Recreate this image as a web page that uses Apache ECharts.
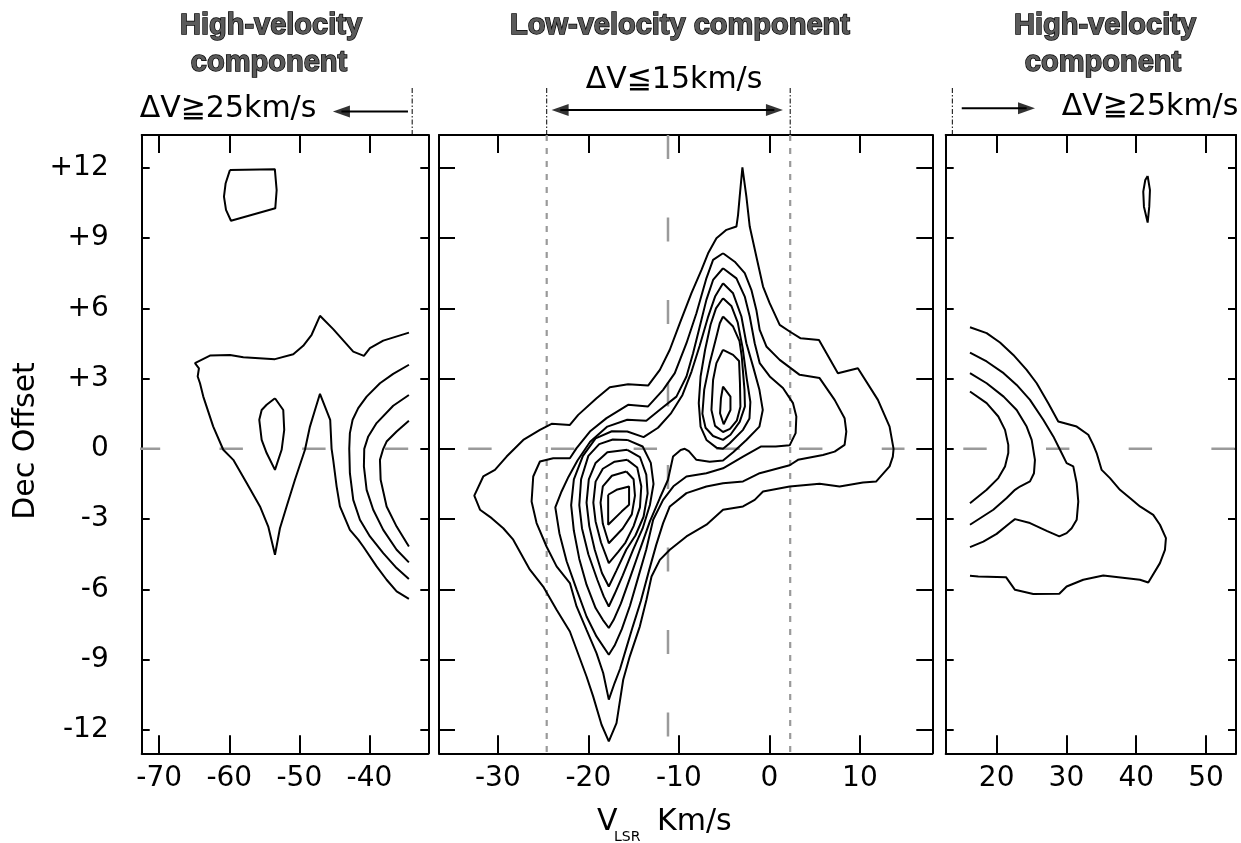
<!DOCTYPE html>
<html><head><meta charset="utf-8">
<script src="https://cdn.jsdelivr.net/npm/echarts@6/dist/echarts.min.js"></script>
<style>html,body{margin:0;padding:0;background:#fff}#chart{width:1241px;height:843px}</style>
</head><body><div id="chart"></div>
<script>
// ---------- tick values / labels ----------
const yTicks = [-12,-9,-6,-3,0,3,6,9,12];
const yTickLabels = ['-12','-9','-6','-3','0','+3','+6','+9','+12'];
const xTicksLeft = [-70,-60,-50,-40];
const xTicksMid = [-30,-20,-10,0,10];
const xTicksRight = [20,30,40,50];

// ---------- left panel contours (x: VLSR, y: Dec offset) ----------
const leftOuter = [[-34.36,4.96],[-38.03,4.62],[-39.93,4.30],[-40.79,3.97],[-42.31,4.15],[-45.17,5.11],[-47.06,5.68],[-48.25,4.87],[-49.45,4.40],[-50.87,4.04],[-53.48,3.83],[-58.00,3.91],[-59.90,4.01],[-62.76,3.98],[-64.90,3.66],[-64.33,3.44],[-64.51,3.09],[-64.18,2.80],[-63.71,2.23],[-62.29,0.95],[-60.86,-0.04],[-59.43,-0.47],[-57.52,-1.46],[-55.62,-2.46],[-54.44,-3.32],[-53.48,-4.52],[-52.77,-3.39],[-51.82,-2.46],[-50.63,-1.32],[-49.20,-0.04],[-48.49,0.95],[-47.77,1.66],[-47.06,2.35],[-45.60,1.24],[-45.40,0.00],[-45.17,-0.47],[-44.68,-1.61],[-44.21,-2.46],[-42.79,-3.46],[-41.60,-3.88],[-40.89,-4.17],[-38.98,-5.02],[-37.55,-5.59],[-36.12,-6.09],[-34.37,-6.41]];
const leftTopLoop = [[-59.9,11.91],[-53.5,11.94],[-53.24,11.05],[-53.44,10.27],[-59.76,9.74],[-60.47,10.2],[-60.76,10.77],[-60.52,11.34]];
const leftInnerLoop = [[-53.48,2.16],[-52.3,1.66],[-52.16,0.81],[-52.53,-0.04],[-53.48,-0.9],[-54.67,-0.18],[-55.38,0.38],[-55.72,1.24],[-55.38,1.66],[-54.67,1.88]];
const leftArcA = [[-34.36,3.59],[-36.61,3.2],[-38.5,2.8],[-40.4,2.23],[-41.6,1.74],[-42.4,1.24],[-42.79,0.67],[-42.88,0],[-42.79,-1.04],[-42.31,-2.18],[-41.36,-3.03],[-39.93,-3.74],[-38.03,-4.45],[-36.12,-5.09],[-34.37,-5.56]];
const leftArcB = [[-34.37,2.3],[-36.61,1.84],[-38.98,1.1],[-40.17,0.53],[-40.74,0],[-40.79,-0.75],[-40.4,-1.75],[-39.46,-2.6],[-38.03,-3.46],[-36.12,-4.31],[-34.37,-4.85]];
const leftArcC = [[-34.37,1.2],[-36.12,0.74],[-37.55,0.31],[-38.03,0],[-38.5,-0.47],[-38.4,-1.32],[-37.55,-2.46],[-36.12,-3.32],[-34.37,-4.17]];

// ---------- middle panel contours ----------
const midM1 = [[-2.98,12.02],[-2.54,10.77],[-2.17,9.49],[-1.44,8.21],[-0.7,6.93],[0.03,6.22],[1.14,5.29],[2.24,5.01],[3.46,4.72],[5.48,4.65],[7.57,3.23],[9.78,3.44],[11.99,2.09],[13.28,0.95],[13.72,0],[13.64,-0.33],[13.28,-0.75],[11.81,-1.39],[10.34,-1.44],[7.76,-1.61],[5.55,-1.49],[2.24,-1.61],[-0.7,-1.82],[-1.62,-2.18],[-2.91,-2.46],[-5.12,-2.6],[-6.95,-3.24],[-9.16,-3.74],[-11.0,-4.31],[-12.1,-4.74],[-13.02,-5.45],[-13.58,-6.44],[-14.31,-7.58],[-15.42,-8.86],[-16.15,-9.86],[-16.89,-11.71],[-17.74,-12.49],[-18.54,-11.78],[-19.47,-10.57],[-20.2,-9.72],[-22.04,-7.8],[-23.51,-6.87],[-24.99,-5.88],[-26.46,-5.16],[-28.3,-3.88],[-29.4,-3.39],[-30.68,-2.96],[-31.97,-2.6],[-32.6,-2.0],[-31.61,-1.18],[-30.32,-0.9],[-29.03,-0.33],[-27.19,0.38],[-25.35,0.81],[-24.06,1.07],[-22.04,1.02],[-21.12,1.45],[-19.09,2.16],[-17.63,2.63],[-15.61,2.76],[-13.4,2.7],[-12.1,3.37],[-11.0,4.23],[-9.9,5.36],[-8.61,6.65],[-7.5,7.64],[-6.77,8.35],[-5.85,8.99],[-4.74,9.35],[-3.64,9.49],[-3.46,9.99],[-3.28,10.77]];
const midM2 = [[-5.12,8.35],[-3.83,7.99],[-2.72,7.5],[-1.99,6.79],[-1.44,5.93],[-1.07,5.08],[-0.33,4.37],[1.14,3.8],[3.35,3.16],[5.55,3.02],[7.21,2.09],[8.31,1.31],[8.5,0.74],[8.31,0.17],[7.21,-0.12],[5.92,-0.26],[3.16,-0.47],[2.24,-0.7],[-1.07,-1.04],[-2.91,-1.39],[-5.12,-1.47],[-6.96,-1.61],[-9.16,-1.89],[-11.0,-2.46],[-11.74,-3.17],[-12.5,-4.1],[-13.3,-5.2],[-14.2,-6.5],[-15.1,-7.6],[-15.8,-8.5],[-16.5,-9.4],[-17.1,-10.0],[-17.74,-10.71],[-18.36,-9.57],[-19.1,-8.72],[-20.2,-7.73],[-21.3,-6.73],[-22.04,-5.73],[-23.51,-5.02],[-24.62,-4.17],[-25.72,-3.17],[-26.27,-2.25],[-26.09,-1.18],[-25.35,-0.54],[-23.88,-0.4],[-22.04,-0.4],[-21.3,0.03],[-19.83,0.74],[-17.99,1.31],[-15.61,1.88],[-13.4,1.81],[-11.74,2.52],[-10.45,3.23],[-9.16,4.51],[-8.06,5.79],[-6.95,7.29],[-6.22,8.07]];
const midM3 = [[-5.12,7.71],[-3.64,7.28],[-2.72,6.5],[-2.17,5.65],[-1.62,4.51],[-1.07,3.66],[0.04,3.09],[1.5,2.6],[2.61,1.95],[2.98,1.38],[2.9,0.67],[2.24,0.15],[0.7,0.1],[-0.9,0.1],[-2.91,-0.33],[-5.12,-0.83],[-6.96,-1.04],[-9.16,-1.18],[-10.6,-1.6],[-11.74,-2.18],[-12.84,-3.03],[-13.6,-4.3],[-14.5,-5.5],[-15.4,-6.7],[-16.3,-7.7],[-17.1,-8.4],[-17.74,-8.79],[-19.1,-8.01],[-20.2,-7.16],[-21.3,-6.0],[-22.4,-4.8],[-23.2,-3.6],[-23.65,-2.5],[-22.96,-1.82],[-22.2,-1.2],[-21.2,-0.5],[-19.8,0.3],[-17.9,0.95],[-15.7,1.24],[-13.6,1.2],[-12.0,1.7],[-10.27,2.23],[-9.16,3.09],[-8.43,4.08],[-7.69,5.22],[-6.96,6.36],[-6.22,7.21]];
const midM4 = [[-5.12,7.07],[-4.01,6.64],[-3.09,5.65],[-2.54,4.51],[-1.8,3.51],[-1.1,2.52],[-0.73,1.66],[-1.1,0.95],[-2.54,0.38],[-4.0,-0.15],[-5.12,-0.5],[-6.6,-0.55],[-8.06,-0.47],[-8.9,-0.1],[-9.35,0.0],[-9.8,-0.05],[-10.64,-0.33],[-11.2,-1.32],[-12.1,-2.1],[-13.2,-3.1],[-14.3,-4.3],[-15.3,-5.4],[-16.4,-6.6],[-17.2,-7.3],[-17.74,-7.65],[-18.4,-7.3],[-19.2,-6.8],[-20.2,-5.8],[-21.0,-4.7],[-21.6,-3.5],[-21.9,-2.4],[-21.6,-1.3],[-20.6,-0.3],[-19.2,0.45],[-17.4,0.75],[-15.7,0.74],[-13.9,0.5],[-12.3,0.9],[-10.9,1.5],[-9.6,2.3],[-8.6,3.3],[-7.7,4.4],[-6.8,5.6],[-6.0,6.5]];
const midLow5 = [[-15.7,0.38],[-14.0,0.1],[-13.1,-0.6],[-12.8,-1.5],[-13.2,-2.4],[-14.0,-3.4],[-15.05,-4.3],[-16.2,-5.4],[-17.1,-6.2],[-17.74,-6.73],[-18.3,-6.3],[-19.0,-5.6],[-20.0,-4.5],[-20.7,-3.4],[-21.0,-2.4],[-20.8,-1.3],[-20.0,-0.3],[-18.8,0.2],[-17.3,0.4]];
const midLow6 = [[-15.7,-0.04],[-14.3,-0.35],[-13.6,-1.1],[-13.45,-1.9],[-13.9,-2.9],[-14.8,-3.7],[-15.8,-4.3],[-16.9,-5.2],[-17.74,-5.88],[-18.5,-5.3],[-19.3,-4.3],[-19.9,-3.3],[-20.2,-2.3],[-19.95,-1.3],[-19.2,-0.6],[-17.9,-0.15]];
const midLow7 = [[-15.7,-0.47],[-14.6,-0.8],[-14.15,-1.6],[-14.3,-2.5],[-15.0,-3.3],[-15.9,-4.0],[-16.7,-4.4],[-17.74,-4.88],[-18.6,-4.0],[-19.2,-3.1],[-19.45,-2.3],[-19.2,-1.4],[-18.4,-0.85],[-17.1,-0.55]];
const midLow8 = [[-15.8,-0.97],[-15.0,-1.3],[-14.85,-2.0],[-15.2,-2.8],[-16.2,-3.4],[-17.74,-4.03],[-18.4,-3.2],[-18.65,-2.3],[-18.4,-1.6],[-17.4,-1.15]];
const midLow9 = [[-17.81,-1.96],[-16.89,-1.75],[-15.5,-1.61],[-15.5,-2.39],[-16.33,-2.68],[-17.81,-3.24]];
const midUp5 = [[-5.12,6.43],[-4.2,6.1],[-3.5,5.4],[-2.95,4.3],[-2.5,3.0],[-2.1,2.0],[-2.2,1.3],[-2.91,0.81],[-4.38,0.24],[-5.12,0.0],[-5.85,0.05],[-6.95,0.38],[-7.6,0.95],[-7.8,1.95],[-7.6,3.09],[-7.1,4.23],[-6.5,5.3],[-5.9,6.0]];
const midUp6 = [[-5.12,5.65],[-4.01,5.22],[-3.3,4.6],[-3.05,3.94],[-2.75,2.52],[-2.7,1.81],[-3.28,1.15],[-4.3,0.6],[-5.12,0.38],[-6.22,0.55],[-7.05,0.9],[-7.4,1.5],[-7.2,2.52],[-6.59,3.66],[-5.85,4.79],[-5.48,5.36]];
const midUp7 = [[-5.12,4.23],[-4.01,4.01],[-3.35,3.75],[-3.25,2.8],[-3.2,1.8],[-3.6,1.2],[-4.35,0.85],[-5.12,0.72],[-6.0,0.98],[-6.4,1.66],[-6.22,2.94],[-5.85,3.66]];
const midUp8 = [[-5.12,2.66],[-4.3,2.23],[-4.3,1.66],[-5.05,1.05],[-5.45,1.52],[-5.35,2.16]];

// ---------- right panel contours ----------
const rightLoop = [[41.64,11.65],[41.97,11.05],[41.87,10.34],[41.64,9.66],[41.11,10.34],[41.01,10.98],[41.3,11.48]];
const rightR1 = [[16.18,5.19],[18.57,4.94],[20.48,4.54],[22.39,4.01],[24.3,3.37],[25.74,2.8],[27.4,1.95],[28.83,1.17],[31.47,0.95],[33.13,0.6],[33.85,0.17],[34.33,-0.18],[35.05,-0.9],[36.24,-1.25],[37.67,-1.75],[39.1,-2.1],[40.54,-2.46],[42.44,-2.82],[43.4,-3.24],[44.26,-3.81],[44.12,-4.31],[43.4,-4.88],[41.73,-5.71],[40.54,-5.59],[35.28,-5.41],[32.41,-5.59],[30.03,-5.88],[28.98,-6.19],[25.25,-6.2],[22.63,-6.02],[21.34,-5.48],[17.37,-5.45],[16.18,-5.42]];
const rightR2 = [[16.18,4.11],[18.57,3.73],[21.0,3.23],[22.87,2.73],[24.78,2.09],[26.68,1.24],[28.12,0.53],[29.08,-0.04],[30.03,-0.61],[30.98,-0.75],[31.47,-1.46],[31.7,-2.25],[31.47,-3.03],[30.75,-3.39],[30.03,-3.6],[28.98,-3.74],[27.17,-3.5],[24.78,-3.17],[22.63,-3.0],[21.91,-3.17],[20.0,-3.63],[18.09,-3.96],[16.18,-4.2]];
const rightR3 = [[16.18,3.23],[18.57,2.8],[21.0,2.23],[22.87,1.66],[24.3,0.95],[25.02,0.38],[25.49,-0.47],[25.35,-1.04],[24.78,-1.39],[23.34,-1.61],[22.63,-1.75],[21.44,-2.1],[19.52,-2.6],[16.18,-3.24]];
const rightR4 = [[16.18,2.45],[18.57,1.95],[20.24,1.38],[21.2,0.81],[21.67,0.17],[21.67,-0.18],[21.2,-0.75],[20.24,-1.25],[18.57,-1.75],[16.18,-2.32]];

// ---------- reference lines & annotations (data coordinates) ----------
const zeroLeft = [[-73.2,0],[-34.47,0]];
const zeroMid = [[-33.27,0],[14.93,0]];
const zeroRight = [[15.22,0],[54.2,0]];
const dashedMid = [[-11.2,13.4],[-11.2,-13]];
const dottedMidA = [[-24.6,13.4],[-24.6,-13]];
const dottedMidB = [[2.3,13.4],[2.3,-13]];
const dashDotLeft = [[-33.9,13.4],[-33.9,15.41]];
const dashDotMidA = [[-24.6,13.4],[-24.6,15.41]];
const dashDotMidB = [[2.3,13.4],[2.3,15.41]];
const dashDotRight = [[13.65,13.4],[13.65,15.41]];
// arrow shafts and arrow-head centres
const arrowLeftShaft = [[-44.0,14.4],[-34.5,14.4]];
const arrowLeftHead = [[-44.0,14.4]];
const arrowMidShaft = [[-23.1,14.47],[0.55,14.47]];
const arrowMidHeadL = [[-23.12,14.47]];
const arrowMidHeadR = [[0.56,14.47]];
const arrowRightShaft = [[15.0,14.54],[24.3,14.54]];
const arrowRightHead = [[24.28,14.54]];

// ---------- layout ----------
const Y_MIN = -13, Y_MAX = 13.4;
const panels = [
  {left:141.7, width:286.6, xmin:-72.5, xmax:-31.6, xticks:xTicksLeft, yTickLen:8, showY:true},
  {left:439, width:493.3, xmin:-36.5, xmax:18.0, xticks:xTicksMid, yTickLen:16, showY:false},
  {left:945.7, width:290.3, xmin:12.7, xmax:54.3, xticks:xTicksRight, yTickLen:8, showY:false}
];
const FONT = 'DejaVu Sans';
const axLine = {show:true, onZero:false, lineStyle:{color:'#000', width:2}};
const grids = [], xAxes = [], yAxes = [];
panels.forEach((p, i) => {
  grids.push({left:p.left, top:135, width:p.width, height:618.3, show:false});
  ['bottom','top'].forEach(pos => xAxes.push({
    gridIndex:i, type:'value', position:pos, min:p.xmin, max:p.xmax,
    axisLine:axLine, splitLine:{show:false},
    axisTick:{show:true, inside:true, length:18, customValues:p.xticks, lineStyle:{color:'#000', width:2}},
    axisLabel:{show:pos==='bottom', customValues:p.xticks, fontFamily:FONT, fontSize:28, color:'#000', margin:11}
  }));
  ['left','right'].forEach(pos => yAxes.push({
    gridIndex:i, type:'value', position:pos, min:Y_MIN, max:Y_MAX,
    axisLine:axLine, splitLine:{show:false},
    axisTick:{show:true, inside:true, length:p.yTickLen, customValues:yTicks, lineStyle:{color:'#000', width:2}},
    axisLabel:{show:p.showY && pos==='left', customValues:yTicks, fontFamily:FONT, fontSize:28, color:'#000', margin:33,
      formatter:v => yTickLabels[yTicks.indexOf(v)]}
  }));
});

const series = [];
function contour(pts, closed, gi) {
  series.push({type:'line', xAxisIndex:gi*2, yAxisIndex:gi*2, data: closed ? pts.concat([pts[0]]) : pts,
    symbol:'none', showSymbol:false, silent:true, z:5, animation:false,
    lineStyle:{color:'#000', width:2}});
}
function ref(pts, gi, type, color, width) {
  series.push({type:'line', xAxisIndex:gi*2, yAxisIndex:gi*2, data:pts,
    symbol:'none', showSymbol:false, silent:true, z:2, animation:false, clip:false,
    lineStyle:{color:color, width:width, type:type}});
}
function head(pts, gi, rot) {
  series.push({type:'scatter', xAxisIndex:gi*2, yAxisIndex:gi*2, data:pts, clip:false, silent:true,
    animation:false, z:6, symbol:'triangle', symbolSize:[12,17], symbolRotate:rot, itemStyle:{color:'#000'}});
}
// gray reference lines
const gray = '#9a9a9a';
ref(zeroLeft, 0, [23.4,59.3], gray, 2.5);
ref(zeroMid, 1, [23.4,59.3], gray, 2.5);
ref(zeroRight, 2, [23.4,59.3], gray, 2.5);
ref(dashedMid, 1, [24,58.5], gray, 2.5);
ref(dottedMidA, 1, [6,7], gray, 2.2);
ref(dottedMidB, 1, [6,7], gray, 2.2);
// dash-dot markers and arrows above panels
const dd = [5,2,1.5,2];
ref(dashDotLeft, 0, dd, '#000', 1);
ref(dashDotMidA, 1, dd, '#000', 1);
ref(dashDotMidB, 1, dd, '#000', 1);
ref(dashDotRight, 2, dd, '#000', 1);
ref(arrowLeftShaft, 0, 'solid', '#000', 2);
ref(arrowMidShaft, 1, 'solid', '#000', 2);
ref(arrowRightShaft, 2, 'solid', '#000', 2);
head(arrowLeftHead, 0, 90);
head(arrowMidHeadL, 1, 90);
head(arrowMidHeadR, 1, -90);
head(arrowRightHead, 2, -90);

// contours
contour(leftOuter, false, 0); contour(leftTopLoop, true, 0); contour(leftInnerLoop, true, 0);
contour(leftArcA, false, 0); contour(leftArcB, false, 0); contour(leftArcC, false, 0);
[midM1, midM2, midM3, midM4, midLow5, midLow6, midLow7, midLow8, midLow9, midUp5, midUp6, midUp7, midUp8]
  .forEach(c => contour(c, true, 1));
contour(rightLoop, true, 2);
[rightR1, rightR2, rightR3, rightR4].forEach(c => contour(c, false, 2));

// text
const titleStyle = {fontFamily:'Liberation Sans', fontWeight:'bold', fontSize:29, fill:'#5a5a5a', stroke:'#000', lineWidth:1.4, align:'center', verticalAlign:'middle'};
const annStyle = {fontFamily:FONT, fontSize:30, fill:'#000', align:'center', verticalAlign:'middle'};
function txt(text, x, y, style, extra) {
  return Object.assign({type:'text', x:x, y:y, silent:true, style:Object.assign({text:text}, style)}, extra || {});
}
const graphic = [
  txt('High-velocity', 271, 26, titleStyle),
  txt('component', 269, 63, titleStyle),
  txt('Low-velocity component', 680, 26, titleStyle),
  txt('High-velocity', 1105, 26, titleStyle),
  txt('component', 1103, 63, titleStyle),
  txt('ΔV≧25km/s', 228, 109, annStyle),
  txt('ΔV≦15km/s', 674, 80, annStyle),
  txt('ΔV≧25km/s', 1150, 107, annStyle),
  txt('Dec Offset', 26, 441, Object.assign({}, annStyle), {rotation:Math.PI/2}),
  txt('V', 597, 822, Object.assign({}, annStyle, {align:'left'})),
  txt('LSR', 614, 837, Object.assign({}, annStyle, {align:'left', fontSize:14})),
  txt('Km/s', 657, 822, Object.assign({}, annStyle, {align:'left'}))
];

const chart = echarts.init(document.getElementById('chart'), null, {renderer:'canvas'});
chart.setOption({
  animation:false, backgroundColor:'#fff',
  grid:grids, xAxis:xAxes, yAxis:yAxes, series:series, graphic:graphic
});
</script></body></html>
